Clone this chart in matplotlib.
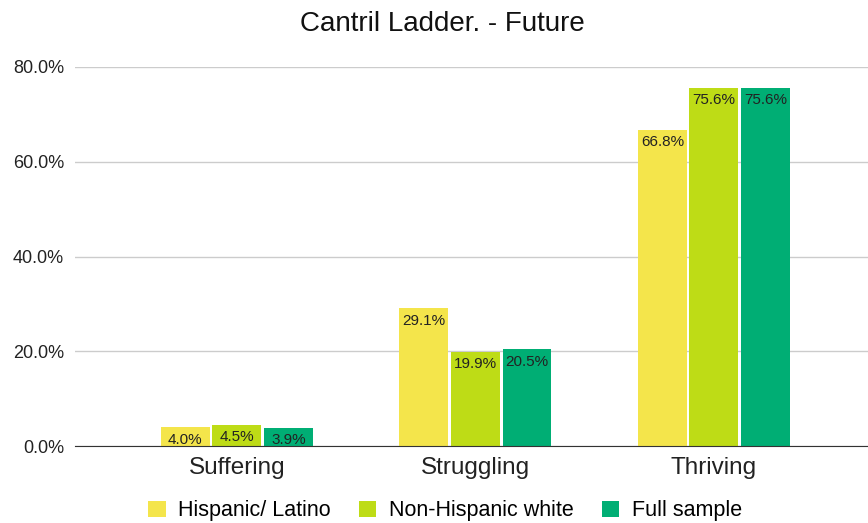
import matplotlib
matplotlib.use("Agg")
import numpy as np
import matplotlib.pyplot as plt
from matplotlib.ticker import FuncFormatter

plt.rcParams["font.family"] = ["Liberation Sans", "DejaVu Sans"]

categories = ["Suffering", "Struggling", "Thriving"]
series_names = ["Hispanic/ Latino", "Non-Hispanic white", "Full sample"]
hispanic = [4.0, 29.1, 66.8]
non_hispanic_white = [4.5, 19.9, 75.6]
full_sample = [3.9, 20.5, 75.6]
colors = ["#F4E54B", "#BEDC16", "#00AE74"]

fig = plt.figure(figsize=(8.68, 5.23), dpi=100)
ax = fig.add_axes([0.0864, 0.147, 0.9136, 0.725])

x = np.arange(len(categories))
width = 0.205
offset = 0.216
for i, (vals, name) in enumerate(zip([hispanic, non_hispanic_white, full_sample], series_names)):
    bars = ax.bar(x + (i - 1) * offset, vals, width, color=colors[i], label=name, zorder=3)
    for b, v in zip(bars, vals):
        ax.annotate(f"{v:.1f}%", (b.get_x() + b.get_width() / 2, v),
                    xytext=(0, -4), textcoords="offset points",
                    ha="center", va="top", fontsize=11, color="#222222", zorder=4)

ax.set_xlim(-0.679, 2.646)
ax.set_ylim(0, 80)
ax.set_yticks([0, 20, 40, 60, 80])
ax.yaxis.set_major_formatter(FuncFormatter(lambda v, p: f"{v:.1f}%"))
ax.tick_params(axis="y", length=0, labelsize=13, pad=8, labelcolor="#222222")
ax.set_xticks(x)
ax.set_xticklabels(categories)
ax.tick_params(axis="x", length=0, labelsize=17.5, pad=8, labelcolor="#222222")
ax.grid(axis="y", color="#cccccc", linewidth=1, zorder=0)
for s in ["top", "right", "left"]:
    ax.spines[s].set_visible(False)
ax.spines["bottom"].set_color("#333333")
ax.spines["bottom"].set_zorder(5)

fig.text(0.51, 0.955, "Cantril Ladder. - Future", ha="center", va="center", fontsize=20, color="#111111")

handles, labels = ax.get_legend_handles_labels()
fig.legend(handles, labels, loc="center", bbox_to_anchor=(0.513, 0.023), ncol=3, frameon=False,
           fontsize=15.5, handlelength=0.8, handleheight=0.8, columnspacing=1.3, handletextpad=0.6)

plt.savefig("out.png", dpi=100)
plt.close()
